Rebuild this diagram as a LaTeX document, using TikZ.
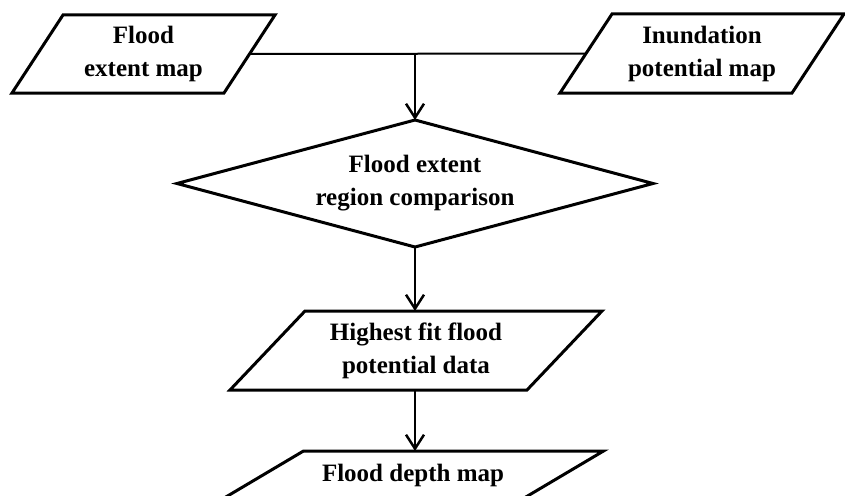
\documentclass[tikz,border=0pt]{standalone}
\usepackage{fontspec}
\setmainfont{Liberation Serif}
\usetikzlibrary{shapes.geometric,arrows.meta,calc}
\begin{document}
\begin{tikzpicture}[x=1pt,y=-1pt,
  txt/.style={font=\fontsize{25}{33}\selectfont\bfseries, align=center},
  pbox/.style={txt, rectangle, inner sep=0pt, outer sep=0pt},
  border/.style={line width=3pt, line join=miter},
  conn/.style={line width=2pt},
  arr/.style={line width=2pt, -{Straight Barb[length=14pt,width=18pt,line width=2.5pt]}},
]
\useasboundingbox (0,0) rectangle (845,495);
\newcommand{\parabox}[2]{%
  \draw[border] ([xshift=#2]#1.north west) -- ([xshift=#2]#1.north east)
    -- ([xshift=-#2]#1.south east) -- ([xshift=-#2]#1.south west) -- cycle;}

\node[pbox, minimum width=212pt, minimum height=78pt] (fe) at (143.5,54) {Flood\\extent map};
\node[pbox, minimum width=232pt, minimum height=79pt] (ip) at (702,53.5) {Inundation\\potential map};
\node[txt, diamond, draw, border, inner sep=0pt, outer sep=0pt, shape aspect=3.75,
      minimum width=476pt, minimum height=127pt] (cmp) at (415,183.5) {Flood extent\\region comparison};
\node[pbox, minimum width=297pt, minimum height=79pt] (hf) at (416,350.5) {Highest fit flood\\potential data};
\node[pbox, minimum width=300pt, minimum height=48pt] (fd) at (413,475) {Flood depth map};

\parabox{fe}{25.5pt}
\parabox{ip}{26pt}
\parabox{hf}{37.5pt}
\parabox{fd}{40.5pt}

\draw[conn] (fe.east) -- (ip.west);
\coordinate (j) at (cmp.north |- fe.east);
\draw[arr] (j) -- (cmp.north);
\draw[arr] (cmp.south) -- (cmp.south |- hf.north);
\draw[arr] (hf.south -| cmp.south) -- (cmp.south |- fd.north);
\end{tikzpicture}
\end{document}
